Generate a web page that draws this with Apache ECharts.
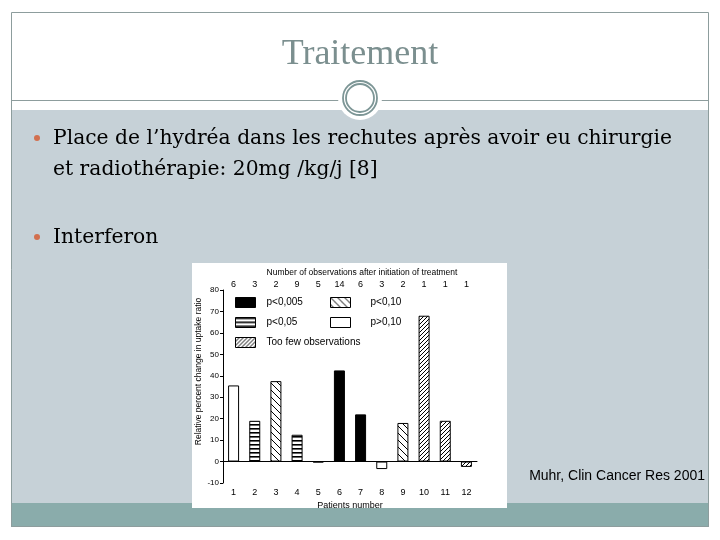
<!DOCTYPE html>
<html>
<head>
<meta charset="utf-8">
<title>Traitement</title>
<script src="https://cdn.jsdelivr.net/npm/echarts@6/dist/echarts.min.js"></script>
<style>
  html, body { margin: 0; padding: 0; background: #fff; }
  #main { width: 720px; height: 540px; }
</style>
</head>
<body>
<div id="main"></div>
<script>
// données (Muhr, Clin Cancer Res 2001)
var patients = ['1', '2', '3', '4', '5', '6', '7', '8', '9', '10', '11', '12'];
var uptakeChange = [35.5, 19, 37.5, 12.5, -0.4, 42.5, 22, -3.5, 18, 68, 19, -2.5];
var observations = ['6', '3', '2', '9', '5', '14', '6', '3', '2', '1', '1', '1'];
var groupOfPatient = ['p>0,10', 'p<0,05', 'p<0,10', 'p<0,05', 'p>0,10', 'p<0,005',
  'p<0,005', 'p>0,10', 'p<0,10', 'Too few observations', 'Too few observations', 'Too few observations'];
var legendLeft = ['p<0,005', 'p<0,05', 'Too few observations'];
var legendRight = ['p<0,10', 'p>0,10'];
var groups = legendLeft.concat(legendRight);

// motifs de remplissage des barres
function makePattern(kind) {
  var s = kind == 'slash' ? 4 : (kind == 'back' ? 7 : 4);
  var c = document.createElement('canvas');
  c.width = s;
  c.height = s;
  var ctx = c.getContext('2d');
  ctx.fillStyle = kind == 'solid' ? '#000' : '#fff';
  ctx.fillRect(0, 0, s, s);
  ctx.strokeStyle = '#000';
  ctx.fillStyle = '#000';
  ctx.lineWidth = 1;
  if (kind == 'horiz') {
    ctx.fillRect(0, 0, s, 1.6);
  } else if (kind == 'back' || kind == 'slash') {
    for (var k = -1; k <= 1; k++) {
      ctx.beginPath();
      if (kind == 'back') {
        ctx.moveTo(k * s, 0);
        ctx.lineTo(k * s + s, s);
      } else {
        ctx.moveTo(k * s, s);
        ctx.lineTo(k * s + s, 0);
      }
      ctx.stroke();
    }
  }
  return { image: c, repeat: 'repeat' };
}

var fills = {
  'p<0,005': makePattern('solid'),
  'p<0,05': makePattern('horiz'),
  'Too few observations': makePattern('slash'),
  'p<0,10': makePattern('back'),
  'p>0,10': makePattern('none')
};

var series = groups.map(function (g) {
  return {
    name: g,
    type: 'bar',
    barWidth: 11,
    barGap: '-100%',
    z: 10,
    data: uptakeChange.map(function (v, i) { return groupOfPatient[i] == g ? v : '-'; }),
    itemStyle: { color: fills[g], borderColor: '#000', borderWidth: 1 },
    emphasis: { disabled: true }
  };
});

var chartFont = 'Liberation Sans, Arial, sans-serif';
var serif = 'DejaVu Serif, serif';

var chart = echarts.init(document.getElementById('main'));
var option = {
  animation: false,
  backgroundColor: '#fff',
  textStyle: { fontFamily: chartFont, color: '#000' },
  graphic: [
    { type: 'rect', z: 0, shape: { x: 11, y: 110, width: 698, height: 393 }, style: { fill: '#c6d1d7' } },
    { type: 'rect', z: 0, shape: { x: 11, y: 503, width: 698, height: 24 }, style: { fill: '#8aacab' } },
    { type: 'rect', z: 1, shape: { x: 11.5, y: 12.5, width: 697, height: 514 }, style: { fill: null, stroke: '#8d9d9d', lineWidth: 1 } },
    { type: 'line', z: 1, shape: { x1: 11, y1: 100.5, x2: 709, y2: 100.5 }, style: { stroke: '#8d9d9d', lineWidth: 1 } },
    { type: 'circle', z: 2, shape: { cx: 360, cy: 98, r: 22 }, style: { fill: '#fff' } },
    { type: 'circle', z: 3, shape: { cx: 360, cy: 98, r: 17 }, style: { fill: null, stroke: '#7d9696', lineWidth: 1.8 } },
    { type: 'circle', z: 3, shape: { cx: 360, cy: 98, r: 14 }, style: { fill: null, stroke: '#7d9696', lineWidth: 1.8 } },
    { type: 'text', z: 3, style: { x: 360, y: 55, text: 'Traitement', fill: '#7b8f8f', font: '36px Liberation Serif, serif', align: 'center', verticalAlign: 'middle' } },
    { type: 'circle', z: 3, shape: { cx: 37, cy: 138, r: 3 }, style: { fill: '#d2704f' } },
    { type: 'text', z: 3, style: { x: 53, y: 139, text: 'Place de l\u2019hydréa dans les rechutes après avoir eu chirurgie', fill: '#000', font: '20.3px ' + serif, verticalAlign: 'middle' } },
    { type: 'text', z: 3, style: { x: 53, y: 170, text: 'et radiothérapie: 20mg /kg/j [8]', fill: '#000', font: '20.3px ' + serif, verticalAlign: 'middle' } },
    { type: 'circle', z: 3, shape: { cx: 37, cy: 237, r: 3 }, style: { fill: '#d2704f' } },
    { type: 'text', z: 3, style: { x: 53, y: 238, text: 'Interferon', fill: '#000', font: '20.3px ' + serif, verticalAlign: 'middle' } },
    { type: 'rect', z: 4, shape: { x: 192, y: 263, width: 315, height: 245 }, style: { fill: '#fff' } },
    { type: 'text', z: 4, style: { x: 705, y: 476, text: 'Muhr, Clin Cancer Res 2001', fill: '#000', font: '14px ' + chartFont, align: 'right', verticalAlign: 'middle' } }
  ],
  grid: { left: 223, right: 243, top: 290, bottom: 57, containLabel: false },
  legend: [
    {
      data: legendLeft, left: 235, top: 297, orient: 'vertical', itemWidth: 20, itemHeight: 10, itemGap: 9,
      padding: 0, icon: 'rect', selectedMode: false, z: 12,
      itemStyle: { borderColor: '#000', borderWidth: 1 },
      textStyle: { fontSize: 10, color: '#000', padding: [0, 0, 0, 6] }
    },
    {
      data: legendRight, left: 330, top: 297, orient: 'vertical', itemWidth: 20, itemHeight: 10, itemGap: 9,
      padding: 0, icon: 'rect', selectedMode: false, z: 12,
      itemStyle: { borderColor: '#000', borderWidth: 1 },
      textStyle: { fontSize: 10, color: '#000', padding: [0, 0, 0, 15] }
    }
  ],
  xAxis: [
    {
      type: 'category', data: patients, position: 'bottom', z: 11,
      axisLine: { onZero: true, lineStyle: { color: '#000', width: 1 } },
      axisTick: { length: 3, lineStyle: { color: '#000' } },
      axisLabel: { show: false }, splitLine: { show: false }
    },
    {
      type: 'category', data: patients, position: 'bottom', z: 11,
      axisLine: { show: false, onZero: false }, axisTick: { show: false },
      axisLabel: { margin: 5, fontSize: 9, color: '#000' },
      name: 'Patients number', nameLocation: 'middle', nameGap: 18,
      nameTextStyle: { fontSize: 9, color: '#000' }
    },
    {
      type: 'category', data: observations, position: 'top', z: 11,
      axisLine: { show: false, onZero: false }, axisTick: { show: false },
      axisLabel: { margin: 1, fontSize: 9, color: '#000' },
      name: 'Number of observations after initiation of treatment', nameLocation: 'middle', nameGap: 13,
      nameTextStyle: { fontSize: 8.5, color: '#000', padding: [0, 0, 0, 24] }
    }
  ],
  yAxis: {
    type: 'value', min: -10, max: 80, interval: 10, z: 11,
    axisLine: { show: true, lineStyle: { color: '#000' } },
    axisTick: { show: true, length: 3, lineStyle: { color: '#000' } },
    axisLabel: { margin: 4, fontSize: 8, color: '#000' },
    splitLine: { show: false },
    name: 'Relative percent change in uptake ratio', nameLocation: 'middle', nameGap: 19,
    nameTextStyle: { fontSize: 8.5, color: '#000', padding: [0, 0, 0, 30] }
  },
  series: series
};
chart.setOption(option);
</script>
</body>
</html>
